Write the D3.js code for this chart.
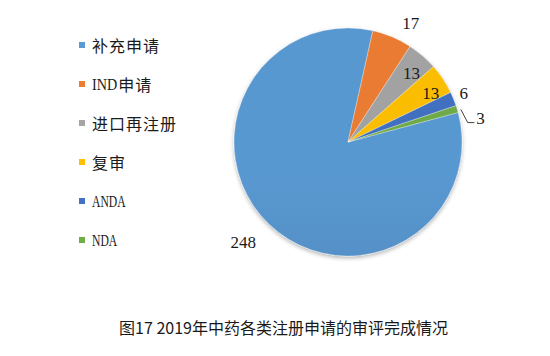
<!DOCTYPE html>
<html><head><meta charset="utf-8">
<script src="https://cdn.jsdelivr.net/npm/d3@7"></script>
<style>
html,body{margin:0;padding:0;background:#fff;}
svg{display:block;}
</style></head>
<body>
<svg id="chart" width="550" height="356"></svg>
<script>
const categories = ["补充申请", "IND申请", "进口再注册", "复审", "ANDA", "NDA"];
const values = [248, 17, 13, 13, 6, 3];
const colors = ["#5B9BD5", "#ED7D31", "#A5A5A5", "#FFC000", "#4472C4", "#70AD47"];
const title = "图17 2019年中药各类注册申请的审评完成情况";

const W = 550, H = 356;
const cx = 348, cy = 142, R = 114;
const startDeg = 75;
// label layout: angle tweak (deg) and radius ratio; leader flag
const labelLayout = [
  {da: 2.5, rr: 1.27},
  {da: 5, rr: 1.18},
  {da: 1.9, rr: 0.82},
  {da: 3.5, rr: 0.84},
  {da: -0.4, rr: 1.10},
  {da: 6.7, rr: 1.18, leader: true}
];

const svg = d3.select("#chart");
const defs = svg.append("defs");

colors.forEach((c, i) => {
  const g = defs.append("linearGradient").attr("id", "g" + i)
    .attr("gradientUnits", "userSpaceOnUse")
    .attr("x1", 0).attr("y1", cy - R).attr("x2", 0).attr("y2", cy + R);
  g.append("stop").attr("offset", "0%").attr("stop-color", d3.color(c).darker(0.05));
  g.append("stop").attr("offset", "100%").attr("stop-color", d3.color(c).darker(0.4));
});

const f = defs.append("filter").attr("id", "shadow").attr("x", "-20%").attr("y", "-20%").attr("width", "140%").attr("height", "140%");
f.append("feGaussianBlur").attr("in", "SourceAlpha").attr("stdDeviation", 2);
f.append("feOffset").attr("dy", 2).attr("result", "ob");
f.append("feComponentTransfer").append("feFuncA").attr("type", "linear").attr("slope", 0.3);
const fm = f.append("feMerge");
fm.append("feMergeNode");
fm.append("feMergeNode").attr("in", "SourceGraphic");

const toRad = d => d * Math.PI / 180;
const pie = d3.pie().sort(null).value(d => d)
  .startAngle(toRad(startDeg)).endAngle(toRad(startDeg + 360));
const arcs = pie(values);
const arc = d3.arc().innerRadius(0).outerRadius(R);

const g = svg.append("g").attr("transform", `translate(${cx},${cy})`);
g.append("g").attr("filter", "url(#shadow)")
  .selectAll("path").data(arcs).join("path")
  .attr("d", arc)
  .attr("fill", (d, i) => `url(#g${i})`)
  .attr("stroke", "#fff").attr("stroke-width", 0.3);

// data labels
arcs.forEach((d, i) => {
  const L = labelLayout[i];
  const mid = (d.startAngle + d.endAngle) / 2;
  const a = mid + toRad(L.da);
  const r = R * L.rr;
  const x = r * Math.sin(a), y = -r * Math.cos(a);
  g.append("text")
    .attr("x", x).attr("y", y)
    .attr("text-anchor", "middle").attr("dominant-baseline", "central")
    .attr("font-family", "'Liberation Serif', 'Times New Roman', serif")
    .attr("font-size", 17).attr("fill", "#1a1a1a")
    .text(values[i]);
  if (L.leader) {
    const r0 = R * 1.03;
    const sx = r0 * Math.sin(mid + toRad(0.7)), sy = -r0 * Math.cos(mid + toRad(0.7));
    const ex = x - 6, ey = y + 4.2;
    g.append("polyline")
      .attr("points", [[sx, sy], [ex - 6.7, ey], [ex, ey]].map(p => p.join(",")).join(" "))
      .attr("fill", "none").attr("stroke", "#404040").attr("stroke-width", 1);
  }
});

// legend
const ly = d3.scaleLinear().domain([0, 1]).range([45, 84]);
const leg = svg.append("g");
categories.forEach((c, i) => {
  const y = ly(i);
  leg.append("rect").attr("x", 79).attr("y", y - 3).attr("width", 6).attr("height", 6)
    .attr("fill", colors[i]);
  const parts = c.match(/[A-Za-z0-9 ]+|[^A-Za-z0-9 ]+/g);
  let x = 92;
  parts.forEach(p => {
    const latin = /^[A-Za-z0-9 ]+$/.test(p);
    const t = leg.append("text").attr("x", x).attr("y", y).attr("dominant-baseline", "central")
      .attr("fill", "#1a1a1a")
      .attr("font-family", latin ? "'Liberation Serif', serif" : "'Noto Sans CJK SC', sans-serif")
      .attr("font-size", 16)
      .attr("letter-spacing", latin ? 0 : 1)
      .text(p);
    if (latin) {
      const len = p.length * 8.4;
      t.attr("textLength", len).attr("lengthAdjust", "spacingAndGlyphs");
      x += len + 1;
    } else {
      x += t.node().getComputedTextLength();
    }
  });
});

// title
svg.append("text").attr("x", 283.5).attr("y", 327).attr("text-anchor", "middle")
  .attr("dominant-baseline", "central")
  .attr("font-family", "'Noto Sans CJK SC', sans-serif").attr("font-size", 16)
  .attr("fill", "#1a1a1a").text(title);
</script>
</body></html>
